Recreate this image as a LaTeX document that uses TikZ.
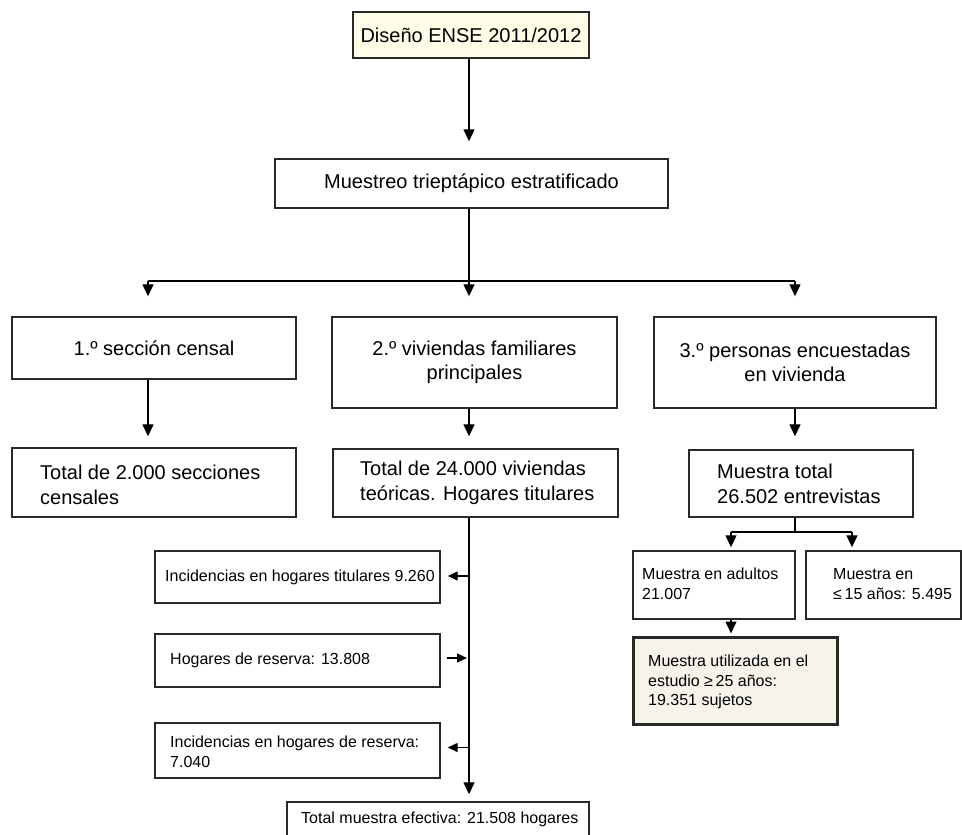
\documentclass[tikz,border=0pt]{standalone}
\usepackage{fontspec}
\setmainfont{Liberation Sans}
\usetikzlibrary{arrows.meta,calc}
\definecolor{edge}{RGB}{40,40,40}
\definecolor{creamA}{RGB}{255,253,232}
\definecolor{creamB}{RGB}{246,243,235}
\tikzset{
  box/.style={draw=edge, line width=1.4pt, rectangle, inner sep=0pt, fill=white},
  big/.style={font=\fontsize{20}{24.5}\selectfont, text=black},
  small/.style={font=\fontsize{16}{19.5}\selectfont, text=black},
  lbl/.style={anchor=west, align=left, inner sep=0pt},
  conn/.style={draw=black, line width=1.3pt},
  arr/.style={conn, -{Triangle[length=12pt,width=11pt]}},
  sarr/.style={conn, -{Triangle[length=10pt,width=9pt]}},
}
\begin{document}
\begin{tikzpicture}[x=1pt,y=-1pt]
\useasboundingbox (0,0) rectangle (962,835);
\clip (0,0) rectangle (962,835);
% column coordinates
\coordinate (cA) at (148,0);
\coordinate (cB) at (469,0);
\coordinate (cC) at (795,0);
\coordinate (cD) at (731,0);
\coordinate (cE) at (852,0);
\coordinate (hub) at (469,281);
\coordinate (hub2) at (795,532);

% top
\node[box, fill=creamA, minimum width=236pt, minimum height=46pt, big] (top) at (471,35) {Diseño ENSE 2011/2012};
\node[box, minimum width=393pt, minimum height=49pt, big] (mue) at (471.5,183.5) {Muestreo trieptápico estratificado};

% row 1
\node[box, minimum width=284pt, minimum height=62pt, big] (b1) at (154,348) {1.º sección censal};
\node[box, minimum width=285pt, minimum height=91pt, big, align=center] (b2) at (474.5,362.5) {2.º viviendas familiares\\principales};
\node[box, minimum width=282pt, minimum height=91pt, big, align=center] (b3) at (795,362.5) {3.º personas encuestadas\\en vivienda};

% row 2
\node[box, minimum width=284pt, minimum height=69pt] (c1) at (154,482.5) {};
\node[lbl, big] at (40,485) {Total de 2.000 secciones\\censales};
\node[box, minimum width=285pt, minimum height=68pt] (c2) at (475.5,483) {};
\node[lbl, big] at (360,483) {Total de 24.000 viviendas\\teóricas. Hogares titulares};
\node[box, minimum width=224pt, minimum height=67pt] (c3) at (801,483.5) {};
\node[lbl, big] at (717,484) {Muestra total\\26.502 entrevistas};

% right sub-boxes
\node[box, minimum width=162pt, minimum height=68pt] (d1) at (714,585) {};
\node[lbl, small] at (642,584) {Muestra en adultos\\21.007};
\node[box, minimum width=155pt, minimum height=68pt] (d2) at (883.5,585) {};
\node[lbl, small] at (833,584) {Muestra en\\≤\,15 años: 5.495};
\node[box, fill=creamB, line width=3pt, minimum width=204pt, minimum height=87pt] (e) at (735,680.5) {};
\node[lbl, small] at (648,682) {Muestra utilizada en el\\estudio ≥\,25 años:\\19.351 sujetos};

% left side boxes
\node[box, minimum width=285pt, minimum height=52pt] (g1) at (297.5,577) {};
\node[lbl, small] at (165,577) {Incidencias en hogares titulares 9.260};
\node[box, minimum width=285pt, minimum height=53pt] (g2) at (297.5,660.5) {};
\node[lbl, small] at (170,660) {Hogares de reserva: 13.808};
\node[box, minimum width=285pt, minimum height=55pt] (g3) at (297.5,750.5) {};
\node[lbl, small] at (170,752) {Incidencias en hogares de reserva:\\7.040};

% bottom box
\node[box, minimum width=302pt, minimum height=40pt] (f) at (438,822) {};
\node[lbl, small] at (301,819) {Total muestra efectiva: 21.508 hogares};

% connectors
\draw[arr, shorten >=17pt] (top.south -| cB) -- (mue.north -| cB);
\draw[conn] (mue.south -| cB) -- (hub);
\draw[conn] (cA |- hub) -- (cC |- hub);
\draw[arr, shorten >=20pt] (cA |- hub) -- (b1.north -| cA);
\draw[arr, shorten >=20pt] (hub) -- (b2.north -| cB);
\draw[arr, shorten >=20pt] (cC |- hub) -- (b3.north -| cC);

\draw[arr, shorten >=11pt] (b1.south -| cA) -- (c1.north -| cA);
\draw[arr, shorten >=12pt] (b2.south -| cB) -- (c2.north -| cB);
\draw[arr, shorten >=13pt] (b3.south -| cC) -- (c3.north -| cC);

\draw[conn] (c3.south -| cC) -- (hub2);
\draw[conn] (cD |- hub2) -- (cE |- hub2);
\draw[arr, shorten >=3pt] (cD |- hub2) -- (d1.north -| cD);
\draw[arr, shorten >=3pt] (cE |- hub2) -- (d2.north -| cE);
\draw[arr, shorten >=2pt] (d1.south -| cD) -- (e.north -| cD);

\draw[arr, shorten >=7pt] (c2.south -| cB) -- (f.north -| cB);
\draw[sarr, shorten >=7pt] ($(cB |- g1.east)+(0,-1)$) -- ($(g1.east)+(0,-1)$);
\draw[sarr, shorten <=6pt, shorten >=2pt] ($(g2.east)+(0,-2.5)$) -- ($(cB |- g2.east)+(0,-2.5)$);
\draw[sarr, shorten >=7pt] ($(cB |- g3.east)+(0,-3)$) -- ($(g3.east)+(0,-3)$);
\end{tikzpicture}
\end{document}
